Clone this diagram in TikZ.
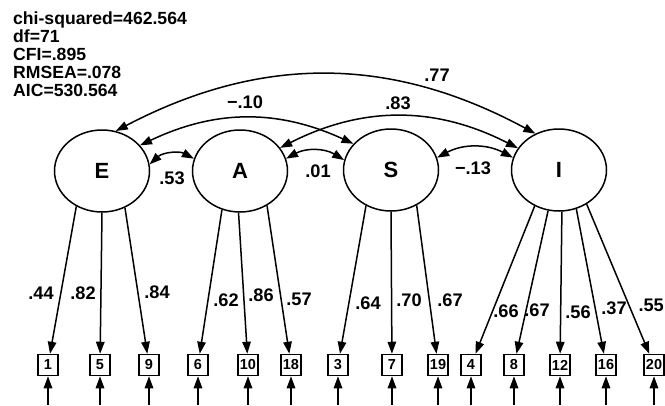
\documentclass[tikz,border=0pt]{standalone}
\usepackage{fontspec}
\setmainfont{Liberation Sans}
\usetikzlibrary{arrows.meta,shapes.geometric}

\begin{document}
\begin{tikzpicture}[x=1pt,y=-1pt,
  latent/.style={draw,ellipse,line width=1.5pt,minimum width=95pt,minimum height=82pt,inner sep=0pt,font=\fontsize{22}{24}\selectfont\bfseries},
  obs/.style={draw,rectangle,line width=1.5pt,minimum width=20pt,minimum height=21pt,inner sep=1pt,font=\fontsize{14.5}{15}\selectfont\bfseries},
  load/.style={line width=1.5pt,-{Triangle[length=12pt,width=8.5pt]}},
  cov/.style={line width=1.5pt,{Triangle[length=12pt,width=8.5pt]}-{Triangle[length=12pt,width=8.5pt]}},
  coef/.style={font=\fontsize{18.2}{19}\selectfont\bfseries,inner sep=0pt}]
\useasboundingbox (0,0) rectangle (665,405);

% Fit indices.
\node[anchor=north west,align=left,inner sep=0pt,font=\fontsize{17.6}{18}\selectfont\bfseries] (fit) at (13,12)
  {chi-squared=462.564\\df=71\\CFI=.895\\RMSEA=.078\\AIC=530.564};

% Latent factors.
\node[latent] (E) at (102,171) {E};
\node[latent] (A) at (240,171) {A};
\node[latent] (S) at (391,170) {S};
\node[latent] (I) at (559,170) {I};

% Observed items with their error arrows.
\foreach \name/\xx in {1/48,5/100,9/149,6/198,10/248,18/291,3/338,7/392,19/438,4/471,8/514,12/560,16/606,20/654} {
  \node[obs] (b\name) at (\xx,365) {\name};
  \coordinate (e\name) at (\xx,405);
  \draw[load] (e\name) -- (b\name);
}

% Factor loadings.
\foreach \lv/\ang/\name in {E/234/1,E/270/5,E/302/9,A/245/6,A/268/10,A/308/18,S/235/3,S/270/7,S/306/19,I/236/4,I/255/8,I/274/12,I/294/16,I/309/20} {
  \draw[load] (\lv.\ang) -- (b\name);
}
\foreach \name/\val/\xx/\yy in {1/.44/41/293,5/.82/83/293,9/.84/157/292,6/.62/226/300,10/.86/261/295,18/.57/299/299,
  3/.64/368/303,7/.70/409/300,19/.67/450/300,4/.66/506/311,8/.67/537/310,12/.56/578/312,16/.37/614/308} {
  \node[coef] (l\name) at (\xx,\yy) {\val};
}
\node[coef,anchor=east] (l20) at (664,305) {.55};

% Factor covariances.
\draw[cov] (E.8) to[bend left=35] (A.165);
\draw[cov] (A.15) to[bend left=30] (S.168);
\draw[cov] (S.15) to[bend left=28] (I.165);
\draw[cov] (E.34) to[bend left=25] (S.145);
\draw[cov] (A.30) to[bend left=27] (I.152);
\draw[cov] (E.71) to[bend left=28] (I.123);
\node[coef] (cEA) at (172,178) {.53};
\node[coef] (cAS) at (318,171) {.01};
\node[coef] (cSI) at (473,168) {−.13};
\node[coef] (cES) at (245,102) {−.10};
\node[coef] (cAI) at (398,103) {.83};
\node[coef] (cEI) at (437,75) {.77};
\end{tikzpicture}
\end{document}
